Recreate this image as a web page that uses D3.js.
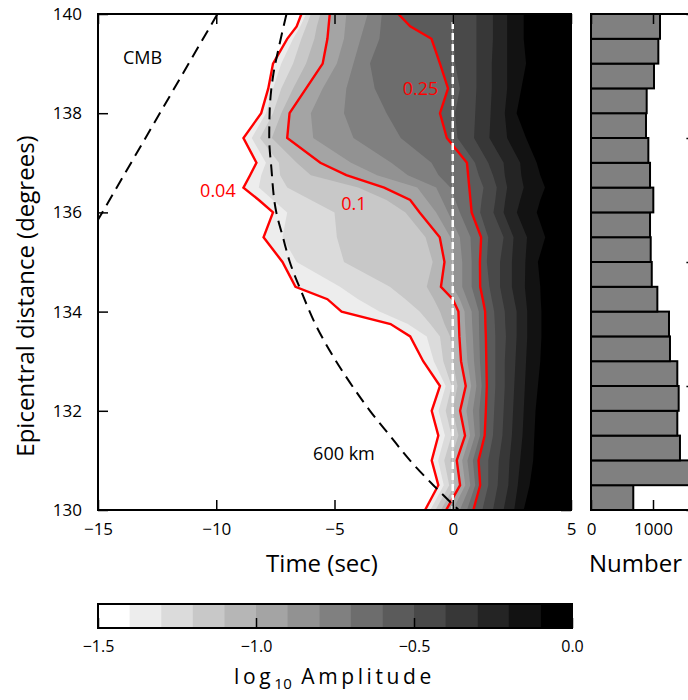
<!DOCTYPE html>
<html>
<head>
<meta charset="utf-8">
<script src="https://cdn.jsdelivr.net/npm/d3@7"></script>
<style>
  body { margin: 0; background: #fff; }
  svg { display: block; }
  text { font-family: "Open Sans", "DejaVu Sans", sans-serif; }
</style>
</head>
<body>
<svg id="fig" width="688" height="700"></svg>
<script>
// ---- data -------------------------------------------------------------
// epicentral distance rows (degrees), top to bottom
const distances = [140, 139.75, 139.5, 139, 138.5, 138, 137.5, 137, 136.75, 136.5, 136.25,
                   136, 135.5, 135, 134.5, 134.25, 134, 133.75, 133.5, 133, 132.5, 132,
                   131.5, 131, 130.5, 130];

// colour levels of log10 amplitude
const levels = [-1.5, -1.4, -1.3, -1.2, -1.1, -1.0, -0.9, -0.8, -0.7, -0.6,
                -0.5, -0.4, -0.3, -0.2, -0.1, 0.0];

// time (s) at which each level is reached along every distance row
const tLevelM14 = [-6.4, -6.6, -7.0, -7.6, -7.8, -8.1, -8.85, -8.3, -8.57, -8.85, -8.2, -7.6, -8.0,
                   -7.2, -6.65, -5.3, -4.7, -2.63, -1.8, -1.25, -0.54, -0.89, -0.61, -0.89, -0.61, -1.17];
const tLevelM13 = [-6.2, -6.45, -6.75, -7.25, -7.6, -7.9, -8.5, -7.9, -8.1, -8.2, -7.6, -7.0, -7.2,
                   -6.6, -4.77, -4.0, -3.1, -1.9, -1.1, -0.8, -0.3, -0.6, -0.33, -0.62, -0.38, -0.95];
const tLevelM12 = [-6.0, -6.2, -6.4, -6.75, -7.25, -7.6, -8.15, -7.35, -7.3, -7.0, -6.0, -5.0, -4.9,
                   -4.6, -2.66, -2.0, -1.4, -0.95, -0.54, -0.4, -0.05, -0.3, -0.05, -0.36, -0.15, -0.73];
const tLevelM11 = [-5.6, -5.75, -5.85, -6.2, -6.75, -7.25, -7.65, -6.6, -6.0, -4.0, -2.8, -2.0, -1.15,
                   -0.85, -1.1, -0.8, -0.54, -0.35, -0.11, 0.0, 0.2, 0.0, 0.24, -0.1, 0.08, -0.5];
const tLevelM10 = [-5.2, -5.25, -5.3, -5.5, -6.2, -6.9, -7.0, -5.6, -4.5, -2.9, -1.8, -1.4, -0.55,
                   -0.35, -0.5, 0.0, 0.24, 0.26, 0.28, 0.35, 0.55, 0.31, 0.52, 0.17, 0.31, -0.28];
const tLevelM09 = [-4.5, -4.55, -4.6, -4.9, -5.5, -6.0, -5.9, -4.3, -3.2, -1.5, -1.1, -0.7, -0.1,
                   0.05, 0.0, 0.3, 0.5, 0.52, 0.55, 0.62, 0.78, 0.58, 0.73, 0.4, 0.53, 0.0];
const tLevelM08 = [-3.6, -3.75, -3.9, -4.2, -4.5, -4.6, -4.2, -2.6, -1.9, -0.7, -0.45, -0.2, 0.3,
                   0.4, 0.4, 0.6, 0.8, 0.82, 0.85, 0.9, 1.0, 0.85, 0.94, 0.62, 0.74, 0.3];
const tLevelM07 = [-3.0, -3.05, -3.1, -3.5, -3.3, -2.8, -2.2, -0.9, -0.6, -0.1, 0.1, 0.3, 0.75,
                   0.8, 0.8, 0.95, 1.1, 1.11, 1.12, 1.15, 1.22, 1.12, 1.15, 0.85, 0.95, 0.6];
const tLevelM06 = [-2.3, -1.8, -0.9, -0.54, -0.2, -0.54, -0.25, 0.6, 0.65, 0.7, 0.75, 0.8, 1.2,
                   1.15, 1.16, 1.27, 1.37, 1.38, 1.4, 1.42, 1.44, 1.4, 1.35, 1.09, 1.16, 0.87];
const tLevelM05 = [0.0, 0.0, 0.05, 0.1, 0.3, 0.1, 0.2, 0.94, 1.1, 1.3, 1.22, 1.16, 1.5,
                   1.44, 1.55, 1.65, 1.75, 1.78, 1.8, 1.8, 1.8, 1.75, 1.7, 1.5, 1.5, 1.25];
const tLevelM04 = [1.0, 1.0, 1.0, 1.0, 1.0, 0.95, 0.9, 1.5, 1.7, 1.86, 1.8, 1.72, 2.15,
                   2.0, 2.0, 2.1, 2.2, 2.22, 2.25, 2.2, 2.2, 2.15, 2.1, 1.95, 1.9, 1.7];
const tLevelM03 = [1.7, 1.7, 1.7, 1.65, 1.65, 1.6, 1.55, 2.15, 2.2, 2.3, 2.22, 2.15, 2.57,
                   2.5, 2.5, 2.6, 2.7, 2.7, 2.7, 2.65, 2.6, 2.55, 2.5, 2.4, 2.35, 2.15];
const tLevelM02 = [2.3, 2.3, 2.3, 2.3, 2.3, 2.2, 2.3, 2.85, 2.9, 3.0, 2.85, 2.71, 3.14,
                   3.07, 3.05, 3.1, 3.15, 3.15, 3.15, 3.1, 3.05, 3.0, 2.95, 2.85, 2.75, 2.6];
const tLevelM01 = [3.0, 3.0, 3.0, 3.1, 2.9, 2.7, 3.1, 3.55, 3.7, 3.9, 3.7, 3.55, 3.91,
                   3.6, 3.7, 3.72, 3.75, 3.75, 3.75, 3.7, 3.6, 3.5, 3.45, 3.4, 3.25, 3.0];

// amplitude contours drawn in red, with their labels
const redLevels = [-1.4, -1.0, -0.6];
const redLabels = ["0.04", "0.1", "0.25"];

// predicted arrival curves: time (s) vs distance (deg)
const cmbTime = [-9.95, -15.0];
const cmbDist = [140, 135.85];
const km600Time = [-7.03, -7.32, -7.6, -7.74, -7.76, -7.67, -7.46, -7.18, -6.89, -6.4,
                   -5.76, -5.06, -4.25, -3.5, -2.66, -1.81, -0.82, 0.25];
const km600Dist = [140, 139.4, 138.74, 138.06, 137.5, 136.9, 136.0, 135.5, 135.0, 134.4,
                   133.7, 133.1, 132.5, 132.0, 131.5, 131.0, 130.5, 130.0];

// histogram of records per 0.5 degree bin (lower bin edges)
const binStarts = [130, 130.5, 131, 131.5, 132, 132.5, 133, 133.5, 134, 134.5,
                   135, 135.5, 136, 136.5, 137, 137.5, 138, 138.5, 139, 139.5];
const binCounts = [682, 1800, 1435, 1392, 1414, 1392, 1274, 1258, 1070, 980,
                   963, 952, 1005, 952, 925, 887, 898, 1016, 1086, 1113];

// tick values
const timeTicks = [-15, -10, -5, 0, 5];
const distTicks = [130, 132, 134, 136, 138, 140];
const countTicks = [0, 1000];
const histDistTicks = [130, 132.5, 135, 137.5, 140];
const cbarTicks = [-1.5, -1.0, -0.5, 0.0];

// ---- drawing ----------------------------------------------------------
const svg = d3.select("#fig");
const crossings = [tLevelM14, tLevelM13, tLevelM12, tLevelM11, tLevelM10, tLevelM09, tLevelM08,
                   tLevelM07, tLevelM06, tLevelM05, tLevelM04, tLevelM03, tLevelM02, tLevelM01];

const x = d3.scaleLinear().domain([-15, 5]).range([98, 571]);
const y = d3.scaleLinear().domain([130, 140]).range([510, 14]);
const band = d3.scaleLinear().domain([0, levels.length - 2]).range(["#ffffff", "#000000"]);

const defs = svg.append("defs");
defs.append("clipPath").attr("id", "clipMain")
  .append("rect").attr("x", x(-15)).attr("y", y(140))
  .attr("width", x(5) - x(-15)).attr("height", y(130) - y(140));

const main = svg.append("g").attr("clip-path", "url(#clipMain)");

// filled amplitude bands: each level covers everything later in time
const area = d3.area()
  .y(p => y(p.d))
  .x0(p => x(p.t))
  .x1(x(6));
crossings.forEach((ts, j) => {
  const pts = distances.map((d, k) => ({ d, t: ts[k] }));
  main.append("path").datum(pts)
    .attr("d", area)
    .attr("fill", band(j + 1))
    .attr("stroke", "none");
});

// red amplitude contours
const line = d3.line().x(p => x(p.t)).y(p => y(p.d));
redLevels.forEach(lv => {
  const j = levels.findIndex(v => Math.abs(v - lv) < 1e-9) - 1;
  const pts = distances.map((d, k) => ({ d, t: crossings[j][k] }));
  main.append("path").datum(pts)
    .attr("d", line)
    .attr("fill", "none")
    .attr("stroke", "#ff0000")
    .attr("stroke-width", 2.4)
    .attr("stroke-linejoin", "miter");
});

// predicted arrivals
const arrival = d3.line().x(p => x(p.t)).y(p => y(p.d)).curve(d3.curveMonotoneY);
const cmbPts = cmbTime.map((t, i) => ({ t, d: cmbDist[i] }));
const kmPts = km600Time.map((t, i) => ({ t, d: km600Dist[i] }));
[cmbPts, kmPts].forEach(pts => {
  main.append("path").datum(pts)
    .attr("d", arrival)
    .attr("fill", "none")
    .attr("stroke", "#000")
    .attr("stroke-width", 2)
    .attr("stroke-dasharray", "12,7");
});

// zero-time reference
main.append("line")
  .attr("x1", x(0)).attr("x2", x(0)).attr("y1", y(140)).attr("y2", y(130))
  .attr("stroke", "rgba(255,255,255,0.35)").attr("stroke-width", 1);
main.append("line")
  .attr("x1", x(0)).attr("x2", x(0)).attr("y1", y(140) + 8).attr("y2", y(130))
  .attr("stroke", "#fff").attr("stroke-width", 2.5)
  .attr("stroke-dasharray", "7,4");

// axes of the main panel (inward ticks)
function styleAxis(g, size) {
  g.select(".domain").remove();
  g.selectAll(".tick line").attr("stroke", "#000").attr("stroke-width", 1.5);
  g.selectAll("text").attr("font-size", size).attr("font-family", '"Open Sans", sans-serif').attr("fill", "#000");
}
svg.append("g").attr("transform", `translate(0,${y(130)})`)
  .call(d3.axisBottom(x).tickValues(timeTicks).tickSize(-10).tickPadding(13))
  .call(g => styleAxis(g, 17));
svg.append("g").attr("transform", `translate(0,${y(140)})`)
  .call(d3.axisTop(x).tickValues(timeTicks).tickSize(-10).tickFormat(""))
  .call(g => styleAxis(g, 17));
svg.append("g").attr("transform", `translate(${x(-15)},0)`)
  .call(d3.axisLeft(y).tickValues(distTicks).tickSize(-10).tickPadding(16).tickFormat(d3.format("d")))
  .call(g => styleAxis(g, 17));
svg.append("g").attr("transform", `translate(${x(5)},0)`)
  .call(d3.axisRight(y).tickValues(distTicks).tickSize(-10).tickFormat(""))
  .call(g => styleAxis(g, 17));

svg.append("rect")
  .attr("x", x(-15)).attr("y", y(140))
  .attr("width", x(5) - x(-15)).attr("height", y(130) - y(140))
  .attr("fill", "none").attr("stroke", "#000").attr("stroke-width", 2);

// annotations
svg.append("text").attr("x", x(-13.12)).attr("y", y(139.13)).attr("dy", "0.36em")
  .attr("text-anchor", "middle").attr("font-size", 18).text("CMB");
svg.append("text").attr("x", x(-4.6)).attr("y", y(131.13)).attr("dy", "0.36em")
  .attr("text-anchor", "middle").attr("font-size", 18).text("600 km");
const redLabelPos = [[-9.93, 136.45], [-4.18, 136.17], [-1.36, 138.49]];
redLabels.forEach((s, i) => {
  svg.append("text").attr("x", x(redLabelPos[i][0])).attr("y", y(redLabelPos[i][1]))
    .attr("dy", "0.36em").attr("text-anchor", "middle")
    .attr("font-size", 18).attr("fill", "#ff0000").text(s);
});

// axis titles
svg.append("text").attr("x", 322).attr("y", 572).attr("text-anchor", "middle")
  .attr("font-size", 24).text("Time (sec)");
svg.append("text").attr("transform", "translate(34,296) rotate(-90)")
  .attr("text-anchor", "middle").attr("font-size", 24).text("Epicentral distance (degrees)");

// ---- histogram panel ----
const xh = d3.scaleLinear().domain([0, 1700]).range([591, 696.4]);
defs.append("clipPath").attr("id", "clipHist")
  .append("rect").attr("x", xh(0)).attr("y", y(140))
  .attr("width", xh(1700) - xh(0)).attr("height", y(130) - y(140));
const hist = svg.append("g").attr("clip-path", "url(#clipHist)");
hist.selectAll("rect").data(binStarts).join("rect")
  .attr("x", xh(0))
  .attr("y", d => y(d + 0.5))
  .attr("width", (d, i) => xh(binCounts[i]) - xh(0))
  .attr("height", d => y(d) - y(d + 0.5))
  .attr("fill", "#808080")
  .attr("stroke", "#000")
  .attr("stroke-width", 2);

svg.append("g").attr("transform", `translate(0,${y(130)})`)
  .call(d3.axisBottom(xh).tickValues(countTicks).tickSize(-10).tickPadding(13).tickFormat(d3.format("d")))
  .call(g => styleAxis(g, 17));
svg.append("g").attr("transform", `translate(0,${y(140)})`)
  .call(d3.axisTop(xh).tickValues(countTicks).tickSize(-10).tickFormat(""))
  .call(g => styleAxis(g, 17));
svg.append("g").attr("transform", `translate(${xh(1700)},0)`)
  .call(d3.axisRight(y).tickValues(histDistTicks).tickSize(-10).tickFormat(""))
  .call(g => styleAxis(g, 17));
svg.append("rect")
  .attr("x", xh(0)).attr("y", y(140))
  .attr("width", xh(1700) - xh(0)).attr("height", y(130) - y(140))
  .attr("fill", "none").attr("stroke", "#000").attr("stroke-width", 2);
svg.append("text").attr("x", 589).attr("y", 572).attr("font-size", 24).text("Number");

// ---- colour bar ----
const xc = d3.scaleLinear().domain([-1.5, 0]).range([98, 572]);
const cbTop = 604, cbBottom = 628;
svg.append("g").selectAll("rect").data(levels.slice(0, -1)).join("rect")
  .attr("x", d => xc(d))
  .attr("y", cbTop)
  .attr("width", (d, i) => xc(levels[i + 1]) - xc(d) + 0.5)
  .attr("height", cbBottom - cbTop)
  .attr("fill", (d, i) => band(i));
svg.append("g").attr("transform", `translate(0,${cbBottom})`)
  .call(d3.axisBottom(xc).tickValues(cbarTicks).tickSize(-10).tickPadding(12.5).tickFormat(d3.format(".1f")))
  .call(g => styleAxis(g, 16));
svg.append("rect")
  .attr("x", xc(-1.5)).attr("y", cbTop)
  .attr("width", xc(0) - xc(-1.5)).attr("height", cbBottom - cbTop)
  .attr("fill", "none").attr("stroke", "#000").attr("stroke-width", 2);

const cbLabel = svg.append("text").attr("x", 234).attr("y", 684)
  .attr("font-size", 21).attr("letter-spacing", 3.6);
cbLabel.append("tspan").text("log");
cbLabel.append("tspan").attr("font-size", 15).attr("dy", 5).attr("letter-spacing", 0.5).text("10");
cbLabel.append("tspan").attr("dy", -5).text(" Amplitude");
</script>
</body>
</html>
